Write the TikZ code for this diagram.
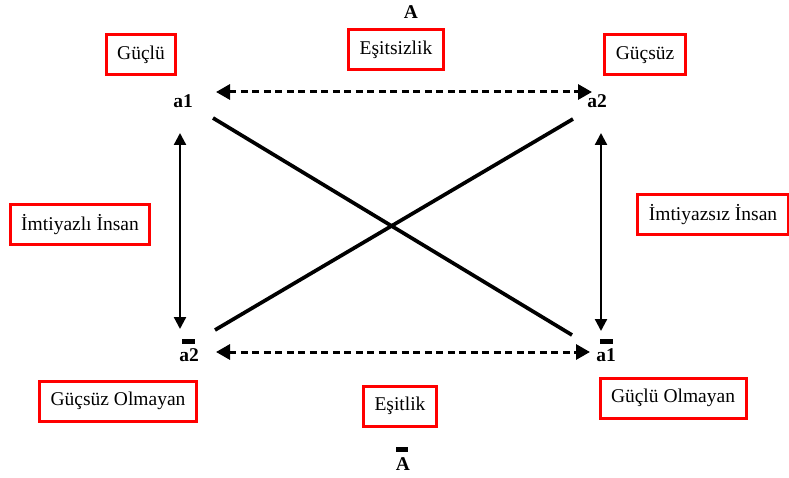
\documentclass[tikz,border=0pt]{standalone}
\usepackage{fontspec}
\setmainfont{Liberation Serif}
\usetikzlibrary{arrows.meta}
\begin{document}
\begin{tikzpicture}[x=1pt,y=-1pt,
  rbox/.style={draw=red, line width=3pt, fill=white, inner xsep=11pt, inner ysep=0pt, minimum height=40pt, font=\fontsize{19.5}{22}\selectfont},
  lbl/.style={font=\bfseries\fontsize{19.5}{22}\selectfont, inner sep=1pt},
  dasharr/.style={line width=3pt, dash pattern=on 7pt off 4.5pt, {Triangle[length=14pt,width=15pt]}-{Triangle[length=14pt,width=15pt]}},
  solidarr/.style={line width=2.3pt, {Triangle[length=12pt,width=12pt]}-{Triangle[length=12pt,width=12pt]}},
  diag/.style={line width=3.7pt},
  barl/.style={line width=4.8pt}]
\useasboundingbox (0,0) rectangle (789,478);
% labels
\node[lbl] (A) at (411,12) {A};
\node[lbl] (Ab) at (403,464) {A};
\draw[barl] (396,449.5) -- (408,449.5);
\node[lbl] (a1) at (183,101) {a1};
\node[lbl] (a2) at (597,101) {a2};
\node[lbl] (a2b) at (189,355) {a2};
\node[lbl] (a1b) at (606,355) {a1};
\draw[barl] (182,341.5) -- (195,341.5);
\draw[barl] (600,341.5) -- (613,341.5);
% boxes
\node[rbox] (g1) at (141,55) {Güçlü};
\node[rbox] (es) at (396,50) {Eşitsizlik};
\node[rbox] (g2) at (645,55) {Güçsüz};
\node[rbox] (im1) at (80,225) {İmtiyazlı İnsan};
\node[rbox] (im2) at (713,215) {İmtiyazsız İnsan};
\node[rbox] (go1) at (118,401) {Güçsüz Olmayan};
\node[rbox] (et) at (400,406) {Eşitlik};
\node[rbox] (go2) at (673,398) {Güçlü Olmayan};
% connectors
\coordinate (t1) at (216,92); \coordinate (t2) at (592,92);
\coordinate (b1) at (216,352); \coordinate (b2) at (590,352);
\draw[dasharr] (t1) -- (t2);
\draw[dasharr] (b1) -- (b2);
\coordinate (l1) at (180,133); \coordinate (l2) at (180,329);
\coordinate (r1) at (601,133); \coordinate (r2) at (601,331);
\draw[solidarr] (l1) -- (l2);
\draw[solidarr] (r1) -- (r2);
\coordinate (d1) at (213,118); \coordinate (d2) at (572,335);
\coordinate (d3) at (215,330); \coordinate (d4) at (573,119);
\draw[diag] (d1) -- (d2);
\draw[diag] (d3) -- (d4);
\end{tikzpicture}
\end{document}
